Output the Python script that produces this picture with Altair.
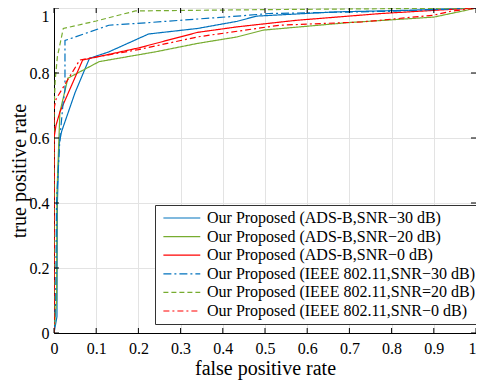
import altair as alt
import pandas as pd

series_names = [
    "Our Proposed (ADS-B,SNR\u221230 dB)",
    "Our Proposed (ADS-B,SNR\u221220 dB)",
    "Our Proposed (ADS-B,SNR\u22120 dB)",
    "Our Proposed (IEEE 802.11,SNR\u221230 dB)",
    "Our Proposed (IEEE 802.11,SNR=20 dB)",
    "Our Proposed (IEEE 802.11,SNR\u22120 dB)",
]
colors = ["#0072BD", "#77AC30", "#FF0000", "#0072BD", "#77AC30", "#FF0000"]
dashes = [[1, 0], [1, 0], [1, 0], [8, 3, 2, 3], [5, 3], [6, 3, 2, 3]]
widths = [1.2, 1.2, 1.2, 1.6, 1.4, 1.4]

fpr_ads30 = [0, 0.007, 0.008, 0.012, 0.018, 0.05, 0.084, 0.13, 0.224, 0.34, 0.434, 0.48, 0.667, 0.84, 1.0]
tpr_ads30 = [0, 0.05, 0.4, 0.58, 0.62, 0.74, 0.845, 0.865, 0.92, 0.937, 0.959, 0.975, 0.988, 0.993, 1.0]

fpr_ads20 = [0, 0.006, 0.007, 0.014, 0.033, 0.107, 0.24, 0.34, 0.434, 0.496, 0.697, 0.90, 0.977, 1.0]
tpr_ads20 = [0, 0.1, 0.43, 0.68, 0.784, 0.835, 0.865, 0.891, 0.911, 0.932, 0.955, 0.972, 0.993, 1.0]

fpr_ads0 = [0, 0, 0.005, 0.014, 0.068, 0.2, 0.34, 0.434, 0.573, 0.775, 0.93, 1.0]
tpr_ads0 = [0, 0.6, 0.64, 0.68, 0.84, 0.877, 0.925, 0.942, 0.962, 0.983, 0.995, 1.0]

fpr_ieee30 = [0, 0.004, 0.006, 0.014, 0.021, 0.026, 0.026, 0.13, 0.224, 0.434, 0.51, 0.8, 1.0]
tpr_ieee30 = [0, 0.1, 0.4, 0.6, 0.7, 0.75, 0.9, 0.947, 0.955, 0.975, 0.983, 0.99, 1.0]

fpr_ieee20 = [0, 0, 0.003, 0.008, 0.022, 0.1, 0.193, 0.5, 1.0]
tpr_ieee20 = [0, 0.69, 0.78, 0.85, 0.937, 0.96, 0.991, 0.995, 1.0]

fpr_ieee0 = [0, 0, 0.005, 0.061, 0.2, 0.34, 0.534, 0.729, 0.9, 0.94, 1.0]
tpr_ieee0 = [0, 0.69, 0.72, 0.84, 0.872, 0.911, 0.947, 0.957, 0.978, 0.99, 1.0]

x_ticks = [0, 0.1, 0.2, 0.3, 0.4, 0.5, 0.6, 0.7, 0.8, 0.9, 1.0]
y_ticks = [0, 0.2, 0.4, 0.6, 0.8, 1.0]

all_fpr = [fpr_ads30, fpr_ads20, fpr_ads0, fpr_ieee30, fpr_ieee20, fpr_ieee0]
all_tpr = [tpr_ads30, tpr_ads20, tpr_ads0, tpr_ieee30, tpr_ieee20, tpr_ieee0]

rows = []
for name, fx, ty in zip(series_names, all_fpr, all_tpr):
    for i, (a, b) in enumerate(zip(fx, ty)):
        rows.append({"series": name, "fpr": a, "tpr": b, "idx": i})
df = pd.DataFrame(rows)

W, H = 422, 325
FONT = "Liberation Serif"

xscale = alt.Scale(domain=[0, 1], nice=False, zero=False)
yscale = alt.Scale(domain=[0, 1], nice=False, zero=False)

legend_cfg = dict(title=None, orient="none", legendX=101, legendY=197,
                  symbolType="M-1,0H7", symbolSize=85,
                  symbolFillColor="transparent",
                  labelFont=FONT, labelFontSize=16, labelColor="black",
                  fillColor="white", strokeColor="#333333",
                  padding=5, rowPadding=2.6, symbolStrokeWidth=1.3,
                  labelOffset=31, labelLimit=400, cornerRadius=0)

lines = alt.Chart(df).mark_line(clip=True).encode(
    x=alt.X("fpr:Q", scale=xscale,
            axis=alt.Axis(values=x_ticks, title="false positive rate", format="~g",
                          labelAlign={"condition": {"test": "datum.value == 1", "value": "right"},
                                      "value": "center"})),
    y=alt.Y("tpr:Q", scale=yscale,
            axis=alt.Axis(values=y_ticks, title="true positive rate", format="~g",
                          labelBaseline={"condition": {"test": "datum.value == 1", "value": "top"},
                                         "value": "middle"})),
    color=alt.Color("series:N", scale=alt.Scale(domain=series_names, range=colors),
                    sort=series_names, legend=alt.Legend(**legend_cfg)),
    strokeDash=alt.StrokeDash("series:N", scale=alt.Scale(domain=series_names, range=dashes),
                              sort=series_names, legend=alt.Legend(**legend_cfg)),
    strokeWidth=alt.StrokeWidth("series:N", scale=alt.Scale(domain=series_names, range=widths),
                                legend=None),
    order=alt.Order("idx:Q"),
)

xt = pd.DataFrame({"fpr": x_ticks})
yt = pd.DataFrame({"tpr": y_ticks})

tick_b = alt.Chart(xt).mark_rule(color="black", strokeWidth=1).encode(
    x="fpr:Q", y=alt.value(H), y2=alt.value(H - 5))
tick_t = alt.Chart(xt).mark_rule(color="black", strokeWidth=1).encode(
    x="fpr:Q", y=alt.value(0), y2=alt.value(5))
tick_l = alt.Chart(yt).mark_rule(color="black", strokeWidth=1).encode(
    y="tpr:Q", x=alt.value(0), x2=alt.value(5))
tick_r = alt.Chart(yt).mark_rule(color="black", strokeWidth=1).encode(
    y="tpr:Q", x=alt.value(W), x2=alt.value(W - 5))

chart = alt.layer(lines, tick_b, tick_t, tick_l, tick_r).properties(
    width=W, height=H,
    autosize=alt.AutoSizeParams(type="none"),
    padding={"left": 46, "top": 0, "right": 0, "bottom": 49},
).configure(
    font=FONT
).configure_view(
    stroke="black", strokeWidth=1
).configure_axis(
    grid=True, gridColor="#e3e3e3", gridWidth=1,
    domainColor="black", domainWidth=1,
    ticks=False,
    labelFont=FONT, labelFontSize=16, labelColor="black",
    titleFont=FONT, titleFontSize=20, titleColor="black", titleFontWeight="normal",
).configure_axisX(
    labelPadding=7, titlePadding=2,
).configure_axisY(
    labelPadding=5, titlePadding=0,
)

chart.save("out.html", embed_options={"renderer": "svg", "actions": False})
